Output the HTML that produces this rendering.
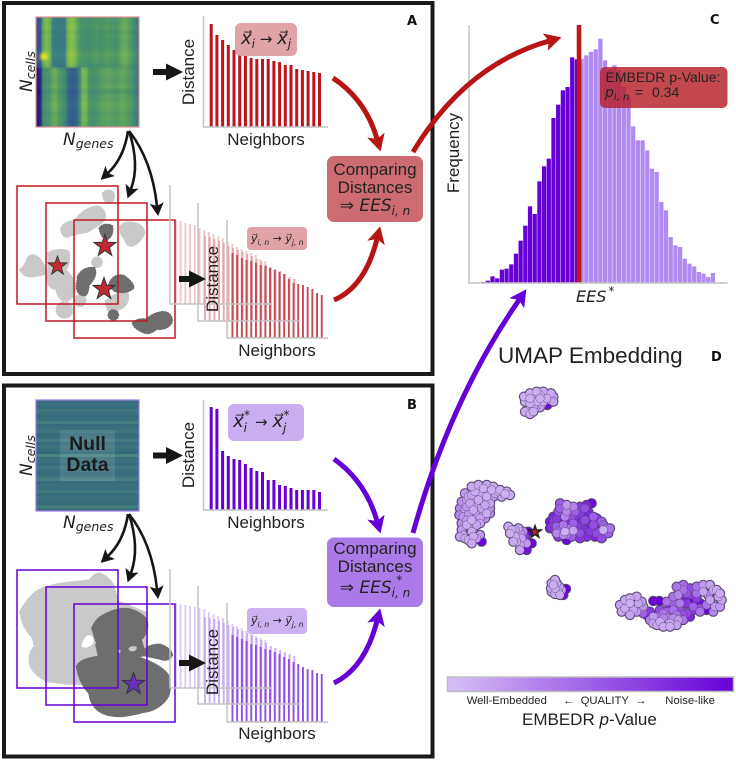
<!DOCTYPE html>
<html lang="en">
<head>
<meta charset="utf-8">
<title>EMBEDR schematic</title>
<style>
html,body{margin:0;padding:0;background:#fff;width:736px;height:760px;overflow:hidden}
svg{display:block}
text{font-family:"Liberation Sans",sans-serif;fill:#222}
.m{font-family:"DejaVu Sans","Liberation Sans",sans-serif;font-style:italic}
.up{font-style:normal}
.lab{font-family:"DejaVu Sans","Liberation Sans",sans-serif;font-weight:bold;font-size:13px;fill:#111}
.bump{stroke-dasharray:1 7;stroke-linecap:round;stroke-width:9}
</style>
</head>
<body>
<svg id="fig" xmlns="http://www.w3.org/2000/svg" width="736" height="760" viewBox="0 0 736 760">
<defs>
<marker id="hRed" markerUnits="userSpaceOnUse" markerWidth="24" markerHeight="24" refX="4" refY="12" orient="auto"><path d="M0,3 L17,12 L0,21 L4,12 Z" fill="#b81414"/></marker>
<marker id="hPur" markerUnits="userSpaceOnUse" markerWidth="24" markerHeight="24" refX="4" refY="12" orient="auto"><path d="M0,3 L17,12 L0,21 L4,12 Z" fill="#6600d6"/></marker>
<marker id="hBlk" markerUnits="userSpaceOnUse" markerWidth="20" markerHeight="20" refX="3" refY="10" orient="auto"><path d="M0,3 L13,10 L0,17 L3,10 Z" fill="#161616"/></marker>
<polygon id="star" points="0,-10 2.35,-3.24 9.51,-3.09 3.8,1.24 5.88,8.09 0,4 -5.88,8.09 -3.8,1.24 -9.51,-3.09 -2.35,-3.24"/>
<linearGradient id="cbar" x1="0" x2="1" y1="0" y2="0"><stop offset="0" stop-color="#d6c0f6"/><stop offset="1" stop-color="#6600d6"/></linearGradient>
<clipPath id="clipHa"><rect x="36" y="17" width="103" height="110"/></clipPath>
<clipPath id="clipHb"><rect x="36" y="400" width="103" height="111"/></clipPath>
<filter id="soft" x="-5%" y="-5%" width="110%" height="110%"><feGaussianBlur stdDeviation="0.7"/></filter>
<filter id="softer" x="-50%" y="-50%" width="200%" height="200%"><feGaussianBlur stdDeviation="1.6"/></filter>
</defs>

<rect x="4" y="3" width="428.5" height="371" fill="none" stroke="#1a1a1a" stroke-width="4"/>
<rect x="4" y="385.5" width="428.5" height="371" fill="none" stroke="#1a1a1a" stroke-width="4"/>

<g id="heatA" clip-path="url(#clipHa)"></g>
<rect x="36" y="17" width="103" height="110" fill="none" stroke="#d58f95" stroke-width="1.2"/>
<g id="heatB" clip-path="url(#clipHb)"></g>
<rect x="60" y="430" width="55" height="51" fill="#fff" opacity="0.1"/>
<rect x="36" y="400" width="103" height="111" fill="none" stroke="#a07ae6" stroke-width="1.2"/>
<text x="87.5" y="450" text-anchor="middle" font-size="19.5" font-weight="bold" style="fill:#1c1c1c">Null</text>
<text x="87.5" y="471" text-anchor="middle" font-size="19.5" font-weight="bold" style="fill:#1c1c1c">Data</text>

<!-- matrix axis labels -->
<text class="m" transform="translate(32,92) rotate(-90)" font-size="17">N<tspan font-size="12.5" dy="3">cells</tspan></text>
<text class="m" x="63" y="145" font-size="17">N<tspan font-size="12.5" dy="3">genes</tspan></text>
<text class="m" transform="translate(32,476) rotate(-90)" font-size="17">N<tspan font-size="12.5" dy="3">cells</tspan></text>
<text class="m" x="63" y="528" font-size="17">N<tspan font-size="12.5" dy="3">genes</tspan></text>

<!-- top distance charts -->
<g id="barsA"></g>
<g id="barsB"></g>
<path d="M203.5,16 V127 H328" fill="none" stroke="#c4c4c4" stroke-width="1.5"/>
<path d="M203.5,400 V510 H328" fill="none" stroke="#c4c4c4" stroke-width="1.5"/>
<text transform="translate(194,72) rotate(-90)" text-anchor="middle" font-size="17">Distance</text>
<text x="266" y="145" text-anchor="middle" font-size="17">Neighbors</text>
<text transform="translate(194,455) rotate(-90)" text-anchor="middle" font-size="17">Distance</text>
<text x="266" y="528" text-anchor="middle" font-size="17">Neighbors</text>

<rect x="235" y="23" width="62" height="33" rx="6" fill="#dd9ea3" opacity="0.95"/>
<text class="m" x="241" y="44" font-size="18">x&#8407;<tspan font-size="12" dy="4">i</tspan><tspan class="up" dy="-4" font-size="15"> → </tspan>x&#8407;<tspan font-size="12" dy="4">j</tspan></text>
<rect x="228" y="404" width="76" height="37" rx="6" fill="#c9aef2"/>
<text class="m" x="233" y="427" font-size="18">x&#8407;<tspan font-size="12" dy="5">i</tspan><tspan font-size="12" dy="-13" dx="-3">*</tspan><tspan class="up" dy="8" dx="5" font-size="15">→ </tspan>x&#8407;<tspan font-size="12" dy="5">j</tspan><tspan font-size="12" dy="-13" dx="-3">*</tspan></text>

<!-- fan bars -->
<g id="fanA"></g>
<g id="fanB"></g>

<!-- resampled boxes + embeddings A -->
<g transform="translate(0,170) scale(0.3333)">
<g fill="#c9c9c9" stroke="#c9c9c9" class="bump">
<path d="M310,70 Q325,55 340,70 Q345,95 325,98 Q310,90 310,70Z"/>
<path d="M185,175 Q195,155 225,155 Q250,115 295,110 Q320,125 312,150 Q280,175 260,185 Q220,190 200,200 Q185,195 185,175Z"/>
<path d="M362,170 Q375,155 400,160 Q430,165 432,190 Q420,215 400,225 Q380,230 375,205 Q360,190 362,170Z"/>
<path d="M62,300 Q80,285 85,262 Q105,250 120,270 Q135,290 135,310 Q100,322 75,315Z"/>
<path d="M145,250 Q175,235 205,245 Q210,280 195,300 Q225,330 225,355 Q215,395 190,392 Q170,375 170,355 Q145,355 143,325 Q150,290 145,250Z"/>
<circle cx="291" cy="277" r="13"/>
<path d="M318,395 Q345,370 380,365 Q390,390 370,410 Q345,425 325,420Z"/>
<circle cx="193" cy="420" r="22"/>
<circle cx="240" cy="392" r="15"/>
</g>
<g fill="#6e6e6e" stroke="#6e6e6e" class="bump">
<path d="M300,175 Q310,160 335,168 Q340,190 325,205 Q305,205 300,175Z"/>
<path d="M235,320 Q250,292 282,295 Q292,315 265,345 Q262,378 250,375 Q230,370 232,345Z"/>
<path d="M328,345 Q340,312 370,318 Q395,335 400,352 Q380,372 345,362Z"/>
<circle cx="340" cy="435" r="13"/>
<path d="M400,460 Q415,445 440,450 Q460,430 490,427 Q515,430 515,455 Q500,480 470,475 Q445,495 430,485 Q405,475 400,460Z"/>
</g>
</g>
<g fill="none" stroke="#c0181f" stroke-width="1.5">
<rect x="17" y="186" width="101" height="118"/><rect x="46" y="203" width="101" height="118"/><rect x="74" y="220" width="101" height="118"/>
</g>
<g fill="#c12a33" stroke="#333" stroke-width="0.9">
<use href="#star" transform="translate(105,246) scale(1.15)"/>
<use href="#star" transform="translate(57.5,266) scale(1)"/>
<use href="#star" transform="translate(104,289) scale(1.15)"/>
</g>

<!-- embeddings B -->
<g transform="translate(0,550) scale(0.3333)">
<path class="bump" d="M62,185 Q85,145 110,125 Q150,105 200,100 L270,92 Q285,70 300,72 Q330,85 340,110 L352,155 L440,190 L440,300 L300,400 L200,400 L140,392 Q100,370 92,345 Q85,310 105,290 L100,262 Q70,235 62,185Z" fill="#c9c9c9" stroke="#c9c9c9"/>
<path d="M245,285 Q250,262 265,255 Q285,258 280,280 Q260,300 245,290Z" fill="#fff"/>
<g fill="#6e6e6e" stroke="#6e6e6e" class="bump">
<path d="M278,235 Q290,205 315,195 Q350,175 385,178 Q430,190 440,215 Q445,245 420,270 Q390,285 350,290 Q310,295 290,275Z"/>
<path d="M290,285 L420,265 L435,315 L300,330Z"/>
<path d="M232,350 Q240,330 290,322 Q350,315 420,325 Q490,350 505,380 Q515,430 495,450 Q470,480 430,485 Q390,495 370,497 Q310,500 285,470 Q270,450 270,430 Q240,400 232,350Z"/>
<path d="M435,300 Q450,285 480,285 Q510,295 515,315 Q505,335 480,325 Q455,320 435,315Z"/>
</g>
<path d="M385,295 q10,-10 25,-5 q2,12 -10,14 q-12,2 -15,-9Z M350,302 q6,-6 12,0 q0,8 -8,8Z" fill="#c9c9c9"/>
</g>
<g fill="none" stroke="#6600d6" stroke-width="1.5">
<rect x="17" y="570" width="101" height="118"/><rect x="46" y="587" width="101" height="118"/><rect x="74" y="604" width="101" height="118"/>
</g>
<use href="#star" transform="translate(133.5,684) scale(1.15)" fill="#6a2fc0" stroke="#333" stroke-width="0.9"/>

<g id="fanAxes" fill="none" stroke="#c4c4c4" stroke-width="1.5">
<path d="M170,185 V304 H272"/><path d="M198,203 V321 H300"/><path d="M227,220 V338 H328"/>
<path d="M170,569 V688 H272"/><path d="M198,586 V704 H300"/><path d="M227,603 V722 H328"/>
</g>
<text transform="translate(218,279) rotate(-90)" text-anchor="middle" font-size="17">Distance</text>
<text x="277" y="356" text-anchor="middle" font-size="17">Neighbors</text>
<text transform="translate(218,662) rotate(-90)" text-anchor="middle" font-size="17">Distance</text>
<text x="277" y="739" text-anchor="middle" font-size="17">Neighbors</text>

<rect x="247" y="227" width="60" height="23" rx="4" fill="#e2a3a8"/>
<text class="m" x="251" y="242" font-size="11">y&#8407;<tspan font-size="7.5" dy="3">i, n</tspan><tspan class="up" dy="-3"> → </tspan>y&#8407;<tspan font-size="7.5" dy="3">j, n</tspan></text>
<rect x="247" y="608" width="60" height="26" rx="4" fill="#c3a4f0" opacity="0.85"/>
<text class="m" x="251" y="624" font-size="11">y&#8407;<tspan font-size="7.5" dy="3">i, n</tspan><tspan class="up" dy="-3"> → </tspan>y&#8407;<tspan font-size="7.5" dy="3">j, n</tspan></text>

<!-- block arrows -->
<g fill="#161616">
<path d="M153,69 H166 V63.5 L183,72 L166,80.5 V75 H153 Z"/>
<path d="M153,452.5 H166 V447 L183,455.5 L166,464 V458.5 H153 Z"/>
<path d="M179,276 H189 V270.5 L206,279 L189,287.5 V282 H179 Z"/>
<path d="M179,660 H189 V654.5 L206,663 L189,671.5 V666 H179 Z"/>
</g>
<!-- curved black arrows -->
<g fill="none" stroke="#161616" stroke-width="2.6">
<path d="M128,131 Q124,158 108,173" marker-end="url(#hBlk)"/>
<path d="M129,131 Q140,165 131,189" marker-end="url(#hBlk)"/>
<path d="M129,131 Q152,160 157,206" marker-end="url(#hBlk)"/>
</g>
<g fill="none" stroke="#161616" stroke-width="2.6">
<path d="M128,514 Q124,541 108,556" marker-end="url(#hBlk)"/>
<path d="M129,514 Q140,548 131,573" marker-end="url(#hBlk)"/>
<path d="M129,514 Q152,543 157,589" marker-end="url(#hBlk)"/>
</g>

<!-- comparing boxes -->
<rect x="327" y="156" width="96" height="66" rx="7" fill="#cc6c72"/>
<g font-size="17" text-anchor="middle">
<text x="375" y="175" text-anchor="middle">Comparing</text>
<text x="375" y="193" text-anchor="middle">Distances</text>
<text x="375" y="211" text-anchor="middle" class="m" font-size="17"><tspan class="up">⇒ </tspan>EES<tspan font-size="12" dy="4">i, n</tspan></text>
</g>
<rect x="327" y="537.5" width="96" height="69.5" rx="7" fill="#a97ae8"/>
<g font-size="17" text-anchor="middle">
<text x="375" y="554" text-anchor="middle">Comparing</text>
<text x="375" y="572" text-anchor="middle">Distances</text>
<text x="375" y="593" text-anchor="middle" class="m" font-size="17"><tspan class="up">⇒ </tspan>EES<tspan font-size="12" dy="4">i, n</tspan><tspan font-size="12" dy="-13" dx="-14">*</tspan></text>
</g>

<!-- histogram -->
<g id="hist"></g>
<path d="M469,25 V283 H727.5" fill="none" stroke="#c4c4c4" stroke-width="1.5"/>
<text transform="translate(459,153) rotate(-90)" text-anchor="middle" font-size="17">Frequency</text>
<text class="m" x="576" y="302" font-size="16">EES<tspan font-size="12" dy="-7" dx="2">*</tspan></text>
<rect x="600" y="67" width="127.5" height="41" rx="5" fill="#b51e28" opacity="0.82"/>
<text x="605.5" y="82" font-size="14">EMBEDR p-Value:</text>
<text class="m" x="605" y="97" font-size="14">p<tspan font-size="10" dy="3">i, n</tspan></text>
<text x="635" y="97" font-size="14">=</text>
<text x="652" y="97" font-size="14">0.34</text>

<!-- thick curved arrows -->
<g fill="none" stroke="#b81414" stroke-width="5">
<path d="M333,78 Q366,100 377,139" marker-end="url(#hRed)"/>
<path d="M334,300 Q365,287 377,239" marker-end="url(#hRed)"/>
<path d="M413,152 Q465,65 549,41" marker-end="url(#hRed)"/>
</g>
<g fill="none" stroke="#6600d6" stroke-width="5">
<path d="M334,459 Q366,482 377,521" marker-end="url(#hPur)"/>
<path d="M334,683 Q365,668 377,621" marker-end="url(#hPur)"/>
<path d="M413,533 Q450,400 519,300" marker-end="url(#hPur)"/>
</g>

<!-- umap -->
<text x="498" y="363" font-size="22.5">UMAP Embedding</text>
<g id="umap"></g>
<use href="#star" transform="translate(535,532) scale(0.62)" fill="#c12a33" stroke="#222" stroke-width="2.6"/>

<rect x="447.5" y="677" width="286" height="14.5" fill="url(#cbar)" stroke="#bdbdbd" stroke-width="1.5"/>
<text x="466.7" y="704" font-size="11.3">Well-Embedded</text>
<text x="563" y="704" font-size="11.3">←&#160;&#160;QUALITY&#160;&#160;→</text>
<text x="665.3" y="704" font-size="11.3">Noise-like</text>
<text x="522" y="725" font-size="17">EMBEDR <tspan font-style="italic">p</tspan>-Value</text>

<text class="lab" x="407" y="25">A</text>
<text class="lab" x="407" y="409">B</text>
<text class="lab" x="710" y="24">C</text>
<text class="lab" x="711" y="361">D</text>
</svg>

<script>
// ---- data ----
const distanceData = [103,92,87,82,77,73,71,69,68,68,68,66,65,62,62,58,57,56,55,54];
const distanceNull = [103,101,59,54,51,50,46,42,39,38,30,30,25,24,22,20,20,20,20,18];
const fanDataBack = [84,83,81,80,79,76,74,72,70,68,66,63,60,57,55,53,51,49,45,43];
const fanDataMid = [85,84,82,80,78,75,73,71,69,67,65,62,60,56,54,52,50,47,44,42];
const fanDataFront = [85,83,80,78,77,75,73,72,70,68,66,64,59,55,54,53,51,49,45,43];
const fanNullBack = [85,84,83,82,81,80,79,76,74,72,70,67,64,62,60,57,54,52,50,48];
const fanNullMid = [87,86,85,83,81,79,77,75,73,71,69,66,64,61,58,56,54,52,50,48];
const fanNullFront = [87,85,83,81,78,77,75,73,72,70,68,65,63,60,58,55,53,52,49,48];
const histCounts = [3,7,20,14,40,43,56,88,127,172,230,207,305,350,373,495,535,578,588,677,671,673,683,693,701,733,668,643,653,638,588,558,470,428,428,398,343,333,243,218,138,113,108,73,58,50,33,28,18,30];
const observedBin = 20.9;
const heatTopColumns = [.26,.3,.68,.74,.7,.5,.47,.46,.46,.47,.7,.76,.74,.66,.6,.58,.58,.57,.58,.6,.6,.58,.6,.62,.6,.6,.58,.62,.66,.68,.64,.6,.55,.48];
const heatBottomColumns = [.04,.1,.56,.58,.6,.66,.68,.62,.58,.54,.4,.33,.32,.38,.55,.72,.7,.6,.58,.58,.6,.63,.64,.65,.64,.63,.62,.64,.66,.64,.62,.6,.54,.48];
const heatRowShift = [.01,0,.01,.02,0,-.01,.01,0,-.01,0,0,.02,.04,.03,.01,.01,-.02,0,.02,.01,0,-.01,.01,.02,-.02,-.03,.01,0,.02,.03,.02,.01,-.01,0,.01,-.01,0];
const nullRows = [.44,.46,.43,.48,.45,.42,.44,.5,.43,.45,.47,.42,.44,.49,.43,.46,.44,.41,.52,.44,.45,.43,.47,.44,.42,.46,.5,.43,.45,.44,.48,.42,.46,.44,.43,.5,.45];
// UMAP coordinates: [umap1, umap2, p-value]
const umapPoints = [
[29,72.5,.12],[31,73,.1],[33,73.5,.1],[35.2,73.5,.12],[36,72,.15],[34,71.5,.12],[32,71.5,.1],[30,71,.1],[29.5,69,.12],[31.5,69.5,.15],[33.5,70.5,.2],[35.2,70.5,.95],[32.5,69.9,.95],[31,68.5,.1],
[28.2,73,.1],[30,74,.1],[32,74.5,.1],[34,74.5,.12],[36.3,74,.12],[37,73,.15],[37,71.5,.15],[30,72.5,.1],[28.5,71.5,.12],[33,72.5,.1],[35,72.5,.12],[28.5,68.5,.12],[30,67.8,.12],[31,70,.12],[33,69.8,.2],
[22.5,43.8,.08],[20.5,44.5,.1],[18.5,45,.1],[16,45.5,.1],[13.5,44.5,.12],[11.5,43,.15],[17,43,.1],[14.5,42,.12],[12,41,.15],[10.5,39,.2],[13,39,.12],[15.5,39.5,.15],[18,41,.15],[17,38,.12],[15,36.5,.15],[12.5,36,.1],[10,37,.2],[11,34.5,.12],[13,33.5,.15],[15,35,.15],[10,31.5,.15],[12.5,32.5,.12],[11.5,30,.12],[14,30.5,.18],[15.5,29.5,.98],[19,43,.2],[9.5,35,.25],[16,41,.2],[14,37.5,.2],[12,38,.2],
[12.5,46,.12],[14.5,46.5,.12],[17,46.5,.12],[19,46,.12],[21,45,.1],[23,44.5,.1],[24,43.5,.1],[21.5,43,.15],[10.5,44,.2],[12.5,43.5,.15],[15,44,.15],[17.5,44.5,.12],[19.5,44,.15],[9.5,41.5,.25],[11,42,.2],[13.5,41.5,.2],[16,42.5,.18],[17.5,41.5,.2],[9,39.5,.3],[11,40,.2],[14,40,.2],[16.5,40.5,.15],[18,39.5,.25],[8.8,37.5,.3],[11.5,37.5,.2],[16,37.5,.2],[18,38,.3],[13,35.5,.15],[9.5,33,.2],[16.5,36.5,.25],[11,36,.2],[14,34.5,.15],[9,31,.15],[10.5,30.5,.15],[13,31,.12],[12.5,29,.12],[15,31.5,.2],
[24.5,33,.1],[26.5,33.5,.15],[28,32.5,.3],[25.5,31,.12],[27.5,30.5,.15],[29,29,.2],[27,28.5,.15],[28.5,27.5,.95],[29.5,32.5,.98],[30.5,29,.98],[29,27,.9],[23.5,34,.12],[24,32,.1],[25.5,33,.15],[27,32,.2],[26,29.5,.15],[27,27,.15],[25,29.5,.12],[28.5,31,.7],
[41,40.5,.2],[38.5,38.5,.6],[37,35.5,.7],[36.5,34,.7],[40.5,37,.3],[43.5,38.5,.5],[46.5,39.5,.6],[48.5,41,.95],[49,37,.5],[51.5,35.5,.5],[53,33.5,.4],[52,33,.1],[49,34.5,.6],[46,35.5,.7],[43,35,.5],[40.5,32.5,.1],[43,32.8,.15],[38,32,.3],[41,30,.98],[45,32,.6],[48,32.5,.7],[50,32,.6],[44,37.5,.7],[40,34.5,.4],[38,34,.5],[49.5,33.5,.8],[46.5,37.5,.8],[42,36,.75],[39.5,36.5,.85],
[39,41,.5],[43,40,.3],[37,37,.8],[39,39.5,.5],[41,38.5,.3],[45,40,.7],[47,40.5,.8],[45,38,.7],[47.5,38.5,.8],[42.5,37,.6],[44.5,36.5,.8],[46.5,36,.6],[48,36,.8],[50,36.5,.7],[52,34.5,.5],[54,33.5,.4],[36,35.5,.85],[38,36.5,.7],[36,33.5,.8],[37.5,33,.7],[39,33,.5],[41.5,33.5,.45],[44,34,.7],[46,33.5,.75],[48,33.5,.8],[51,32.5,.6],[53.5,32,.5],[40,31.5,.3],[42.5,31,.5],[45,30.5,.7],[47,31,.75],[49.5,31,.8],[51.5,30.5,.6],[38.5,31,.7],[41,31.5,.4],
[37.5,15.5,.1],[37,16.5,.1],[38.5,14.5,.12],[39.5,15,.15],[40.8,15.3,.98],[40,13.5,.95],[38,17,.12],[36.3,15.5,.12],[36.5,14.5,.15],[37.5,13.8,.12],[38.8,16,.15],[36.5,17,.12],[39,13.5,.12],[37.5,18,.12],
[60,11,.1],[58.5,9.5,.12],[61,9,.15],[62.5,11,.15],[64,10,.25],[67,11.7,.98],[68.8,11.7,.98],[67,7,.2],[69,5.5,.12],[72,5,.12],[74.5,6,.2],[67,5,.15],[70,8,.4],[73,9,.4],[75,11,.35],[74.5,13.5,.3],[76,15,.4],[78,12,.95],[80,14,.4],[79,10,.5],[82,14.5,.15],[85,15,.12],[86.5,13,.12],[84,12,.15],[85.5,10,.2],[83,9,.95],[81,11,.9],[77,8,.6],[74,7.5,.4],[71.5,6.5,.3],[65,7.5,.9],[77,11,.7],[81,8.5,.4],[83.5,13.5,.3],[72,10,.75],[75,9,.6],
[57,10.5,.15],[58.5,12,.12],[60,12.5,.12],[62,13,.15],[63.5,11.5,.2],[57.5,8.5,.15],[60,7.5,.15],[62,8.5,.2],[64,8,.5],[66,8.5,.7],[68,7,.4],[70,6.5,.3],[66,6,.3],[68,4.5,.15],[70,4,.12],[72,4,.12],[74,4.5,.15],[76,6,.4],[73,6.5,.25],[76,7.5,.6],[78,7,.8],[69,9,.6],[71,8.5,.5],[73,11,.5],[71,11.5,.4],[73,13,.4],[75,15,.45],[77,14,.55],[74,16,.4],[76,16.5,.45],[78,15.5,.6],[80,16,.4],[82,16.5,.2],[84,16.5,.15],[86,15,.12],[87,14,.12],[87.5,12,.15],[87,10,.2],[85,8.5,.3],[83,10.5,.4],[80,12.5,.7],[78,13.5,.7],[76,12,.8],[79,9,.7],[81,9.5,.6]
];

// ---- helpers ----
const svgNS = 'http://www.w3.org/2000/svg';
function mk(tag, parent, attrs) {
  const el = document.createElementNS(svgNS, tag);
  for (const k in attrs) el.setAttribute(k, attrs[k]);
  parent.appendChild(el);
  return el;
}
function lerpStops(stops, pos) {
  for (let i = 0; i < stops.length - 1; i++) {
    const a = stops[i], b = stops[i + 1];
    if (pos <= b[0] || i === stops.length - 2) {
      const f = Math.max(0, Math.min(1, (pos - a[0]) / (b[0] - a[0])));
      return 'rgb(' + [1, 2, 3].map(n => Math.round(a[n] + (b[n] - a[n]) * f)).join(',') + ')';
    }
  }
}
const heatStops = [[0,42,10,112],[.25,47,79,144],[.5,58,128,128],[.6,74,148,104],[.75,128,189,78],[1,238,224,42]];
const nullStops = [[.41,50,106,122],[.46,60,114,126],[.52,70,134,126]];
function drawBars(groupId, values, x0, step, w, base, color, opacity, name) {
  const g = document.getElementById(groupId);
  values.forEach((v, i) => {
    const el = mk('rect', g, { x: x0 + i * step, y: base - v, width: w, height: v, fill: color, opacity: opacity });
    
    
  });
}

// ---- heatmaps ----
const heatA = document.getElementById('heatA');
mk('rect', heatA, { x: 36, y: 17, width: 103, height: 110, fill: '#4a9468' });
const softA = mk('g', heatA, { filter: 'url(#soft)' });
const cellW = 103 / heatTopColumns.length, cellH = 110 / heatRowShift.length;
heatRowShift.forEach((shift, r) => {
  const cols = r < 17 ? heatTopColumns : heatBottomColumns;
  cols.forEach((v, c) => {
    const el = mk('rect', softA, { x: 36 + c * cellW, y: 17 + r * cellH, width: cellW + 0.4, height: cellH + 0.4, fill: lerpStops(heatStops, v + shift) });
    
    
  });
});
const hotSpot = mk('ellipse', heatA, { cx: 44, cy: 56.5, rx: 4, ry: 3.5, fill: '#eee02a', filter: 'url(#softer)' });


const heatB = document.getElementById('heatB');
const rowH = 111 / nullRows.length;
nullRows.forEach((v, r) => {
  const el = mk('rect', heatB, { x: 36, y: 400 + r * rowH, width: 103, height: rowH + 0.4, fill: lerpStops(nullStops, v) });
  
  
});

// ---- distance bars ----
drawBars('barsA', distanceData, 209.7, 5.7, 3, 127, '#c0141c', 1, 'distance-bar');
drawBars('barsB', distanceNull, 209.7, 5.7, 3, 510, '#6600d6', 1, 'null-distance-bar');
drawBars('fanA', fanDataBack, 175, 4.7, 1.9, 304, '#e9b4b8', 0.75, 'fan-a-back-bar');
drawBars('fanA', fanDataMid, 204, 4.7, 1.9, 321, '#e29ca1', 0.85, 'fan-a-mid-bar');
drawBars('fanA', fanDataFront, 231.5, 4.7, 1.9, 338, '#c64a52', 1, 'fan-a-front-bar');
drawBars('fanB', fanNullBack, 175, 4.7, 1.9, 688, '#d0b8f4', 0.75, 'fan-b-back-bar');
drawBars('fanB', fanNullMid, 204, 4.7, 1.9, 704, '#bfa0f0', 0.85, 'fan-b-mid-bar');
drawBars('fanB', fanNullFront, 231.5, 4.7, 1.9, 722, '#8f4fe4', 1, 'fan-b-front-bar');

// ---- histogram ----
const histX = i => 481 + i * 4.69;
const histY = v => 283 - v / 3;
const hist = document.getElementById('hist');
histCounts.forEach((v, i) => {
  const el = mk('rect', hist, { x: histX(i), y: histY(v), width: 4.25, height: 283 - histY(v), fill: i < observedBin ? '#6600d6' : '#b08af0' });
  
  
});
const line = mk('line', hist, { x1: histX(observedBin), x2: histX(observedBin), y1: 25, y2: 283, stroke: '#c01818', 'stroke-width': 4.6 });



// ---- umap ----
const umapX = u => 430 + u * 3.333;
const umapY = v => 340 + (90 - v) * 3.333;
const pColor = p => {
  const a = [214,192,246], b = [102,0,214];
  return 'rgb(' + a.map((s, n) => Math.round(s + (b[n] - s) * p)).join(',') + ')';
};
const umap = document.getElementById('umap');
const drawOrder = umapPoints.slice().sort((a, b) => b[2] - a[2]);
drawOrder.forEach(pt => {
  const el = mk('circle', umap, { cx: umapX(pt[0]), cy: umapY(pt[1]), r: 5.2, fill: '#5b4a78' });
  
  
});
drawOrder.forEach(pt => {
  const el = mk('circle', umap, { cx: umapX(pt[0]), cy: umapY(pt[1]), r: 4.3, fill: pColor(pt[2]), stroke: '#4a3f5c', 'stroke-width': 0.4 });
  
  
});
</script>
</body>
</html>
